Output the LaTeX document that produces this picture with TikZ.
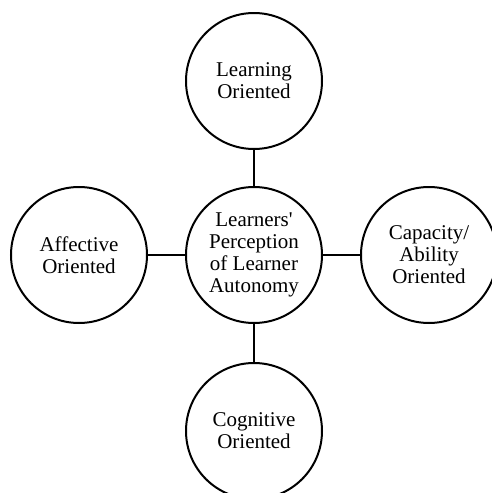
\documentclass[tikz,border=0pt]{standalone}
\usepackage{fontspec}
\setmainfont{Liberation Serif}
\usetikzlibrary{shapes}

\begin{document}
\begin{tikzpicture}[x=1pt, y=-1pt, line width=2pt,
    bubble/.style={circle, draw, minimum size=136pt, inner sep=0pt, align=center,
        font=\fontsize{21pt}{22pt}\selectfont}]
    \useasboundingbox (0,0) rectangle (492,493);

    % Nodes
    \node [bubble] (centre) at (254,255) {Learners\textquotesingle\\Perception\\of Learner\\Autonomy};
    \node [bubble] (learning) at (254,81) {Learning\\Oriented};
    \node [bubble] (affective) at (79,255) {Affective\\Oriented};
    \node [bubble] (capacity) at (429,255) {Capacity/\\Ability\\Oriented};
    \node [bubble] (cognitive) at (254,431) {Cognitive\\Oriented};

    % Links
    \draw (centre) -- (learning);
    \draw (centre) -- (affective);
    \draw (centre) -- (capacity);
    \draw (centre) -- (cognitive);
\end{tikzpicture}
\end{document}
